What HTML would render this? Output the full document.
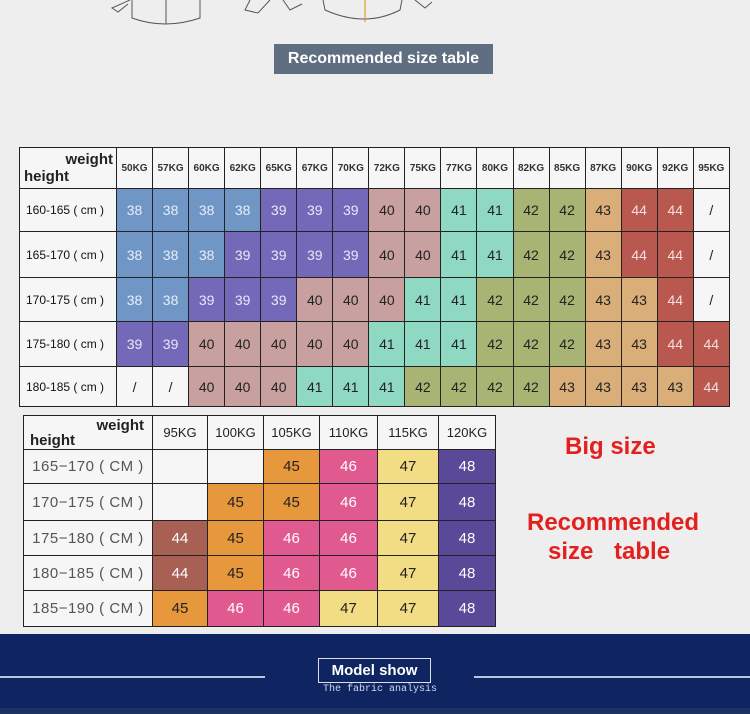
<!DOCTYPE html>
<html><head><style>
body{margin:0;width:750px;height:714px;background:#eeeeee;position:relative;overflow:hidden;font-family:"Liberation Sans",sans-serif}
.abs{position:absolute}
table{border-collapse:collapse;position:absolute;table-layout:fixed}
td{border:1.5px solid #222;text-align:center;padding:0}
.t1 td{font-size:14px;color:#222}
.t1 td.h{font-size:10px;background:#f6f6f6;font-weight:bold;color:#333}
.t1 td.r{font-size:12px;text-align:left;padding-left:6px;background:#f6f6f6;color:#111}
td.b{background:#6f96c4;color:#e8eef8}td.p{background:#7468b8;color:#e8e8f8}td.k{background:#c9a0a0}td.g{background:#8fd8c2}td.o{background:#a8b474}td.n{background:#d9ae78}td.e{background:#b8584e;color:#f4e0e0}td.w{background:#f6f6f6}
.t2 td{font-size:15px;color:#222}
.t2 td.h{font-size:13px;background:#f6f6f6}
.t2 td.r{font-size:15px;color:#555;background:#f6f6f6;letter-spacing:0.5px}
td.B{background:#a86054;color:#fff}td.O{background:#e8983c}td.P{background:#e05a90;color:#fff}td.Y{background:#f2dc84}td.U{background:#5a4898;color:#fff}
.red{color:#e3201e;font-weight:bold;font-size:24px}
</style></head><body>
<svg class="abs" style="left:0;top:0" width="750" height="40">
<path d="M130 0 L112 8 L118 12 L128 4" fill="none" stroke="#555"/>
<path d="M132 0 L132 18 Q165 30 200 18 L200 0" fill="none" stroke="#555"/>
<line x1="166" y1="0" x2="166" y2="24" stroke="#555"/>
<path d="M250 0 L245 10 L258 13 L270 0 M283 0 L290 10 L302 4" fill="none" stroke="#555"/>
<path d="M323 0 L325 10 Q365 28 400 10 L402 0" fill="none" stroke="#555"/>
<line x1="365" y1="0" x2="365" y2="22" stroke="#c90"/>
<path d="M415 0 L425 8 L432 2" fill="none" stroke="#555"/>
</svg>
<div class="abs" style="left:274px;top:44px;width:219px;height:30px;background:#5f6e80;color:#fff;font-weight:bold;font-size:16px;line-height:30px;text-align:center">Recommended size table</div>

<table class="t1" style="left:19px;top:147px;width:710px">
<colgroup><col style="width:97px"><col span="17" style="width:36.06px"></colgroup>
<tr style="height:41px"><td class="w" style="text-align:left;font-weight:bold;font-size:15px;line-height:17px;padding-left:4px"><div style="text-align:right;padding-right:3px">weight</div>height</td><td class="h">50KG</td><td class="h">57KG</td><td class="h">60KG</td><td class="h">62KG</td><td class="h">65KG</td><td class="h">67KG</td><td class="h">70KG</td><td class="h">72KG</td><td class="h">75KG</td><td class="h">77KG</td><td class="h">80KG</td><td class="h">82KG</td><td class="h">85KG</td><td class="h">87KG</td><td class="h">90KG</td><td class="h">92KG</td><td class="h">95KG</td></tr>
<tr style="height:43px"><td class="r">160-165 ( cm )</td><td class="b">38</td><td class="b">38</td><td class="b">38</td><td class="b">38</td><td class="p">39</td><td class="p">39</td><td class="p">39</td><td class="k">40</td><td class="k">40</td><td class="g">41</td><td class="g">41</td><td class="o">42</td><td class="o">42</td><td class="n">43</td><td class="e">44</td><td class="e">44</td><td class="w">/</td></tr>
<tr style="height:46px"><td class="r">165-170 ( cm )</td><td class="b">38</td><td class="b">38</td><td class="b">38</td><td class="p">39</td><td class="p">39</td><td class="p">39</td><td class="p">39</td><td class="k">40</td><td class="k">40</td><td class="g">41</td><td class="g">41</td><td class="o">42</td><td class="o">42</td><td class="n">43</td><td class="e">44</td><td class="e">44</td><td class="w">/</td></tr>
<tr style="height:44px"><td class="r">170-175 ( cm )</td><td class="b">38</td><td class="b">38</td><td class="p">39</td><td class="p">39</td><td class="p">39</td><td class="k">40</td><td class="k">40</td><td class="k">40</td><td class="g">41</td><td class="g">41</td><td class="o">42</td><td class="o">42</td><td class="o">42</td><td class="n">43</td><td class="n">43</td><td class="e">44</td><td class="w">/</td></tr>
<tr style="height:45px"><td class="r">175-180 ( cm )</td><td class="p">39</td><td class="p">39</td><td class="k">40</td><td class="k">40</td><td class="k">40</td><td class="k">40</td><td class="k">40</td><td class="g">41</td><td class="g">41</td><td class="g">41</td><td class="o">42</td><td class="o">42</td><td class="o">42</td><td class="n">43</td><td class="n">43</td><td class="e">44</td><td class="e">44</td></tr>
<tr style="height:40px"><td class="r">180-185 ( cm )</td><td class="w">/</td><td class="w">/</td><td class="k">40</td><td class="k">40</td><td class="k">40</td><td class="g">41</td><td class="g">41</td><td class="g">41</td><td class="o">42</td><td class="o">42</td><td class="o">42</td><td class="o">42</td><td class="n">43</td><td class="n">43</td><td class="n">43</td><td class="n">43</td><td class="e">44</td></tr>
</table>

<table class="t2" style="left:23px;top:415px;width:472px">
<colgroup><col style="width:129px"><col style="width:55px"><col style="width:56px"><col style="width:56px"><col style="width:58px"><col style="width:61px"><col style="width:57px"></colgroup>
<tr style="height:34px"><td class="w" style="text-align:left;font-weight:bold;font-size:15px;line-height:15px;padding-left:6px"><div style="text-align:right;padding-right:8px">weight</div>height</td><td class="h">95KG</td><td class="h">100KG</td><td class="h">105KG</td><td class="h">110KG</td><td class="h">115KG</td><td class="h">120KG</td></tr>
<tr style="height:34px"><td class="r">165−170 ( CM )</td><td class="w"></td><td class="w"></td><td class="O">45</td><td class="P">46</td><td class="Y">47</td><td class="U">48</td></tr>
<tr style="height:37px"><td class="r">170−175 ( CM )</td><td class="w"></td><td class="O">45</td><td class="O">45</td><td class="P">46</td><td class="Y">47</td><td class="U">48</td></tr>
<tr style="height:35px"><td class="r">175−180 ( CM )</td><td class="B">44</td><td class="O">45</td><td class="P">46</td><td class="P">46</td><td class="Y">47</td><td class="U">48</td></tr>
<tr style="height:35px"><td class="r">180−185 ( CM )</td><td class="B">44</td><td class="O">45</td><td class="P">46</td><td class="P">46</td><td class="Y">47</td><td class="U">48</td></tr>
<tr style="height:36px"><td class="r">185−190 ( CM )</td><td class="O">45</td><td class="P">46</td><td class="P">46</td><td class="Y">47</td><td class="Y">47</td><td class="U">48</td></tr>
</table>

<div class="abs red" style="left:565px;top:433px">Big size</div>
<div class="abs red" style="left:527px;top:509px">Recommended</div>
<div class="abs red" style="left:548px;top:538px;word-spacing:14px">size table</div>

<div class="abs" style="left:0;top:634px;width:750px;height:80px;background:#0f2561"></div>
<div class="abs" style="left:0;top:708px;width:750px;height:6px;background:#1c3264"></div>
<div class="abs" style="left:0;top:676px;width:265px;height:2px;background:#b8c4e0"></div>
<div class="abs" style="left:474px;top:676px;width:276px;height:2px;background:#b8c4e0"></div>
<div class="abs" style="left:318px;top:658px;width:111px;height:23px;border:1px solid #dde;color:#fff;font-weight:bold;font-size:15px;line-height:23px;text-align:center">Model show</div>
<div class="abs" style="left:323px;top:684px;color:#d0d8ee;font-family:'Liberation Mono',monospace;font-size:10px">The fabric analysis</div>
</body></html>
